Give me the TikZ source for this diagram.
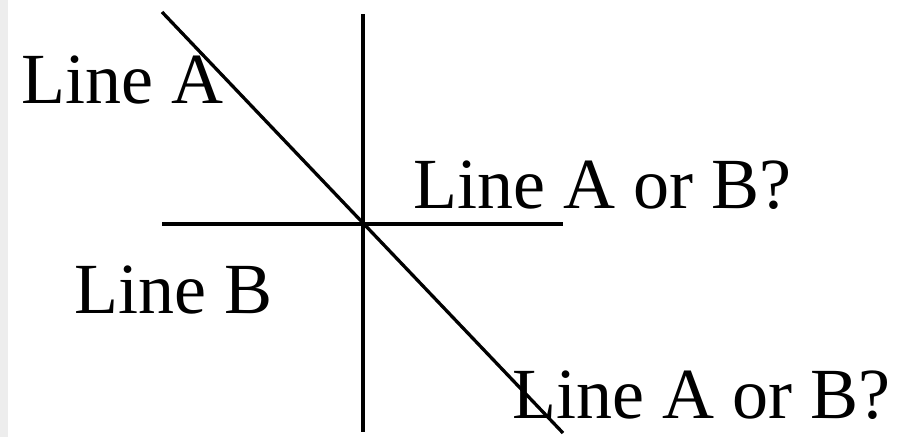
\documentclass[tikz,border=0pt]{standalone}
\usepackage{fontspec}
\setmainfont{Liberation Serif}
\usetikzlibrary{positioning}

\begin{document}
\begin{tikzpicture}[
  x=1pt, y=-1pt,
  lbl/.style={anchor=base west, inner sep=0pt, font=\fontsize{72}{82}\selectfont},
  ln/.style={line width=3.3pt}
]
\useasboundingbox (0,0) rectangle (902,437);
% left strip
\fill[black!7] (0,0) rectangle (8,437);

% Ends of the lines
\coordinate (ctr) at (363,224);
\coordinate (dtop) at (162,12);
\coordinate (dbot) at (563,433);
\coordinate (vtop) at (363,14);
\coordinate (vbot) at (363,432);
\coordinate (hleft) at (162,224);
\coordinate (hright) at (563,224);

% Lines
\draw[ln] (dtop) -- (dbot);
\draw[ln] (vtop) -- (vbot);
\draw[ln] (hleft) -- (hright);

% Labels
\node[lbl] (lineA) at (21,103) {Line A};
\node[lbl] (lineAB1) at (413,208) {Line A or B?};
\node[lbl] (lineB) at (74,313) {Line B};
\node[lbl] (lineAB2) at (512,418) {Line A or B?};
\end{tikzpicture}
\end{document}
